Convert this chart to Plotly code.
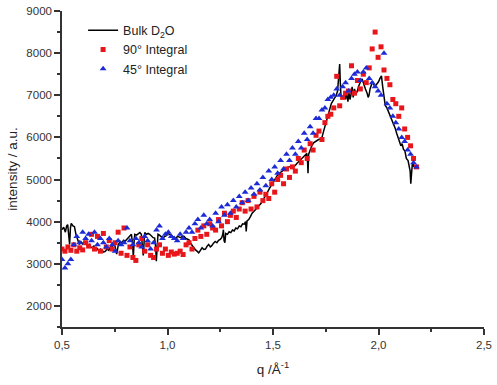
import plotly.graph_objects as go

# ---- Bulk D2O (solid black line) ----
bulk_q = [0.500,0.508,0.516,0.522,0.527,0.532,0.536,0.540,0.544,0.552,0.559,0.566,0.573,0.582,0.590,0.598,0.606,0.613,
          0.621,0.629,0.636,0.643,0.651,0.659,0.667,0.675,0.683,0.690,0.698,0.706,0.714,0.722,0.729,0.736,0.745,0.752,
          0.759,0.767,0.776,0.784,0.792,0.800,0.807,0.815,0.822,0.829,0.834,0.838,0.842,0.845,0.853,0.861,0.869,0.876,
          0.881,0.885,0.889,0.892,0.900,0.908,0.916,0.924,0.932,0.939,0.944,0.947,0.951,0.955,0.962,0.970,0.978,0.986,
          0.993,1.000,1.009,1.016,1.024,1.032,1.040,1.047,1.055,1.063,1.071,1.079,1.087,1.095,1.102,1.110,1.118,1.125,
          1.133,1.140,1.148,1.156,1.164,1.172,1.180,1.188,1.195,1.203,1.210,1.218,1.226,1.234,1.242,1.250,1.257,1.262,
          1.265,1.268,1.272,1.276,1.284,1.292,1.300,1.308,1.316,1.324,1.332,1.340,1.348,1.356,1.364,1.370,1.373,1.377,
          1.385,1.393,1.401,1.409,1.417,1.425,1.433,1.443,1.451,1.459,1.466,1.474,1.482,1.490,1.498,1.506,1.514,1.522,
          1.530,1.538,1.546,1.554,1.562,1.570,1.578,1.586,1.594,1.605,1.613,1.621,1.629,1.637,1.645,1.653,1.660,1.664,
          1.666,1.669,1.676,1.684,1.692,1.700,1.708,1.716,1.724,1.732,1.740,1.748,1.756,1.764,1.770,1.776,1.782,1.788,
          1.794,1.800,1.806,1.812,1.816,1.819,1.822,1.828,1.834,1.840,1.845,1.850,1.855,1.860,1.865,1.869,1.875,1.880,
          1.886,1.892,1.899,1.905,1.911,1.917,1.922,1.930,1.938,1.946,1.951,1.955,1.960,1.968,1.975,1.982,1.990,2.000,
          2.007,2.014,2.020,2.026,2.032,2.040,2.048,2.055,2.063,2.070,2.079,2.086,2.093,2.100,2.106,2.112,2.118,2.125,
          2.132,2.140,2.146,2.150,2.153,2.156,2.160,2.164,2.168]
bulk_i = [3810,3870,3750,3900,3930,3700,3460,3850,3960,3900,3880,3700,3610,3460,3520,3470,3530,3490,
          3420,3460,3400,3380,3420,3330,3360,3300,3350,3320,3280,3300,3350,3320,3400,3380,3530,3400,
          3230,3450,3530,3500,3560,3540,3580,3620,3660,3700,3500,3160,3550,3700,3680,3720,3740,3700,
          3400,3200,3500,3740,3700,3720,3700,3650,3620,3610,3400,3060,3400,3700,3680,3640,3610,3650,
          3660,3730,3700,3680,3660,3640,3600,3650,3630,3620,3660,3650,3600,3580,3570,3480,3420,3380,
          3330,3300,3260,3320,3380,3340,3350,3420,3460,3400,3430,3490,3530,3500,3560,3580,3620,3700,
          3810,3550,3500,3720,3700,3760,3740,3800,3780,3850,3830,3900,3880,3950,3940,4000,3770,4020,
          4050,4120,4200,4240,4300,4330,4380,4430,4500,4560,4630,4700,4780,4850,4920,4980,5050,5110,
          5150,5180,5210,5240,5260,5290,5300,5310,5320,5330,5380,5420,5460,5500,5540,5580,5620,5400,
          5150,5600,5700,5800,5870,5900,5930,5950,5960,6000,6150,6300,6450,6600,6700,6800,6850,6900,
          6950,7000,7100,7400,7740,7300,7000,6950,6920,7100,6900,7150,6850,7050,6900,7000,7200,6950,
          7150,7050,7080,7200,7300,7350,7390,7250,7150,7050,6950,7000,7150,7270,7300,7200,7250,7320,
          7400,7460,7200,6900,6760,6700,6600,6530,6450,6350,6220,6100,6000,5915,5800,5850,5720,5680,
          5500,5450,5300,5200,4900,5200,5350,5360,5300]

# ---- shared q grid for the two integrals ----
q_int = [0.500,0.514,0.528,0.542,0.556,0.570,0.584,0.598,0.612,0.626,0.640,0.654,0.668,0.682,0.696,0.710,0.724,0.738,
         0.752,0.766,0.780,0.794,0.808,0.822,0.836,0.850,0.864,0.878,0.892,0.906,0.920,0.934,0.948,0.962,0.976,0.990,
         1.004,1.018,1.032,1.046,1.060,1.074,1.088,1.102,1.116,1.130,1.144,1.158,1.172,1.186,1.200,1.214,1.228,1.242,
         1.256,1.270,1.284,1.298,1.312,1.326,1.340,1.354,1.368,1.382,1.396,1.410,1.424,1.438,1.452,1.466,1.480,1.494,
         1.508,1.522,1.536,1.550,1.564,1.578,1.592,1.606,1.620,1.634,1.648,1.662,1.676,1.690,1.704,1.718,1.732,1.746,
         1.760,1.774,1.788,1.802,1.816,1.830,1.844,1.858,1.872,1.886,1.900,1.914,1.928,1.942,1.956,1.970,1.984,1.998,
         2.012,2.026,2.040,2.054,2.068,2.082,2.096,2.110,2.124,2.138,2.152,2.166,2.180]

# ---- 90° Integral (red squares) ----
int90 = [3350,3300,3400,3320,3450,3300,3380,3330,3500,3420,3700,3350,3650,3300,3720,3400,3550,3350,
         3500,3750,3250,3850,3200,3400,3150,3080,3450,3600,3300,3450,3200,3150,3350,3450,3250,3350,
         3200,3280,3230,3250,3300,3220,3450,3500,3350,3600,
         3800,3650,3900,3700,3950,3850,3800,4050,3900,4200,
         4000,4150,4250,4100,4300,4450,4250,4500,4300,4600,
         4350,4700,4500,4650,4550,4900,4700,5000,5100,4900,
         5250,5050,5300,5200,5500,5400,5700,5500,5850,5700,
         6050,6150,5950,6350,6500,6550,6700,7450,6750,6950,
         7050,7100,7700,7050,7350,7150,7500,7300,7650,8100,
         8500,7900,
         8150,7600,7400,7250,6900,6800,6500,6700,6200,6000,5800,5500,5300]

# ---- 45° Integral (blue triangles) ----
int45 = [3100,2900,3000,3100,3450,3650,3500,3750,3600,3700,3550,3750,3450,3600,3500,3400,3600,3450,
         3300,3550,3450,3500,3850,3550,3450,3600,3500,3400,3650,3550,3350,3500,3800,3900,3600,3700,
         3750,3650,3600,3550,3700,3600,3750,3850,3750,3950,
         4050,3850,4150,3950,4050,3900,4200,4000,4350,4150,
         4400,4200,4500,4350,4600,4450,4700,4500,4800,4650,
         4900,4750,5050,4850,5200,5000,5300,5150,5450,5250,
         5600,5450,5750,5600,5900,5750,6100,5950,6250,6100,
         6450,6450,6650,6700,6900,6950,7000,7150,7000,7200,
         7300,7100,7400,7500,7550,7350,7550,7650,7400,7300,
         7200,7100,
         7000,8000,6800,6700,6500,6350,6200,6000,5900,5700,5600,5400,5300]

x_tickvals = [0.5, 1.0, 1.5, 2.0, 2.5]
x_ticktext = ["0,5", "1,0", "1,5", "2,0", "2,5"]
x_minor = [0.75, 1.25, 1.75, 2.25]
y_tickvals = [2000, 3000, 4000, 5000, 6000, 7000, 8000, 9000]
y_ticktext = ["2000", "3000", "4000", "5000", "6000", "7000", "8000", "9000"]
y_minor = [1500, 2500, 3500, 4500, 5500, 6500, 7500, 8500]

FONT = "Liberation Sans, Arial, sans-serif"

fig = go.Figure()
fig.add_trace(go.Scatter(x=bulk_q, y=bulk_i, mode="lines", name="Bulk D<sub>2</sub>O",
                         line=dict(color="black", width=1.5)))
fig.add_trace(go.Scatter(x=q_int, y=int90, mode="markers", name="90° Integral",
                         marker=dict(symbol="square", size=5, color="#e8161b")))
fig.add_trace(go.Scatter(x=q_int, y=int45, mode="markers", name="45° Integral",
                         marker=dict(symbol="triangle-up", size=6, color="#1c2bd6")))

axis_common = dict(showgrid=False, zeroline=False, showline=True, linecolor="#333333", linewidth=1.5,
                   ticks="outside", ticklen=6, tickwidth=1.5, tickcolor="#333333",
                   ticklabeloverflow="allow",
                   tickfont=dict(family=FONT, size=11.5, color="#333333"))

fig.update_layout(
    width=497, height=385,
    margin=dict(l=62, r=5, t=6, b=58),
    paper_bgcolor="white", plot_bgcolor="white",
    font=dict(family=FONT, color="#222222"),
    showlegend=True,
    legend=dict(x=0.05, y=0.985, xanchor="left", yanchor="top", bgcolor="rgba(0,0,0,0)",
                font=dict(family=FONT, size=12.5, color="#222222"), tracegroupgap=0),
    xaxis=dict(range=[0.5, 2.5], tickmode="array", tickvals=x_tickvals, ticktext=x_ticktext,
               minor=dict(tickmode="array", tickvals=x_minor, ticks="outside", ticklen=3, tickwidth=1.5,
                          tickcolor="#333333"),
               title=dict(text="q /Å<sup>-1</sup>", font=dict(family=FONT, size=13.5, color="#222222"), standoff=15),
               **axis_common),
    yaxis=dict(range=[1500, 9000], tickmode="array", tickvals=y_tickvals, ticktext=y_ticktext,
               minor=dict(tickmode="array", tickvals=y_minor, ticks="outside", ticklen=3, tickwidth=1.5,
                          tickcolor="#333333"),
               title=dict(text="intensity / a.u.", font=dict(family=FONT, size=13.5, color="#222222"), standoff=6),
               **axis_common),
)

fig.write_html("out.html")
